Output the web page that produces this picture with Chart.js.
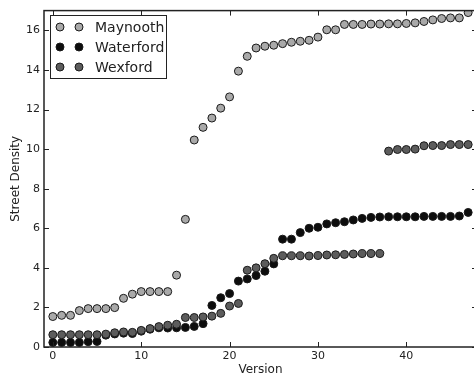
<!DOCTYPE html>
<html>
<head>
<meta charset="utf-8">
<script src="https://cdn.jsdelivr.net/npm/chart.js@4.4.0/dist/chart.umd.min.js"></script>
<style>
  html, body { margin: 0; padding: 0; background: #fff; overflow: hidden; }
  #wrap { width: 482px; height: 378px; }
</style>
</head>
<body>
<div id="wrap"><canvas id="chart" width="482" height="378"></canvas></div>
<script>
const versions = [0, 1, 2, 3, 4, 5, 6, 7, 8, 9, 10, 11, 12, 13, 14, 15, 16, 17, 18, 19, 20, 21, 22, 23,
  24, 25, 26, 27, 28, 29, 30, 31, 32, 33, 34, 35, 36, 37, 38, 39, 40, 41, 42, 43, 44, 45, 46, 47];

const maynooth = [1.54, 1.6, 1.6, 1.84, 1.94, 1.94, 1.94, 1.99, 2.46, 2.67, 2.8, 2.8, 2.8, 2.8, 3.63, 6.45,
  10.46, 11.1, 11.57, 12.07, 12.64, 13.94, 14.69, 15.11, 15.2, 15.25, 15.33, 15.4, 15.45, 15.5, 15.66, 16.03,
  16.03, 16.3, 16.3, 16.3, 16.32, 16.32, 16.33, 16.33, 16.35, 16.38, 16.45, 16.53, 16.6, 16.63, 16.63, 16.9];

const waterford = [0.23, 0.23, 0.23, 0.23, 0.27, 0.28, 0.6, 0.66, 0.7, 0.68, 0.8, 0.9, 0.97, 0.96, 0.97, 0.99,
  1.04, 1.18, 2.1, 2.49, 2.7, 3.33, 3.44, 3.61, 3.83, 4.2, 5.45, 5.45, 5.78, 6.0, 6.05, 6.22,
  6.28, 6.33, 6.42, 6.5, 6.55, 6.57, 6.58, 6.58, 6.58, 6.58, 6.6, 6.6, 6.6, 6.6, 6.62, 6.8];

const wexford = [0.62, 0.62, 0.62, 0.62, 0.62, 0.62, 0.65, 0.72, 0.76, 0.74, 0.84, 0.93, 1.03, 1.1, 1.15, 1.49,
  1.49, 1.52, 1.56, 1.7, 2.07, 2.2, 3.88, 4.0, 4.21, 4.48, 4.61, 4.61, 4.61, 4.6, 4.62, 4.65,
  4.66, 4.68, 4.7, 4.72, 4.72, 4.72, 9.9, 9.98, 9.98, 10.0, 10.17, 10.18, 10.18, 10.23, 10.23, 10.23];

const xTicks = [0, 10, 20, 30, 40];
const yTicks = [0, 2, 4, 6, 8, 10, 12, 14, 16];

const FONT = 'DejaVu Sans';
const INK = '#222';

function points(values) {
  return values.map((v, i) => ({ x: versions[i], y: v }));
}

function makeSet(label, values, fill, order) {
  return {
    label: label,
    data: points(values),
    backgroundColor: fill,
    borderColor: '#1a1a1a',
    borderWidth: 1,
    pointRadius: 4,
    pointHoverRadius: 4,
    order: order
  };
}

// frame, inward ticks and the two-marker legend, matplotlib style
const framePlugin = {
  id: 'frame',
  afterDraw(chart) {
    const ctx = chart.ctx;
    const a = chart.chartArea;
    const xs = chart.scales.x;
    const ys = chart.scales.y;
    ctx.save();
    ctx.strokeStyle = INK;
    ctx.lineWidth = 1;
    xTicks.forEach(t => {
      const px = Math.round(xs.getPixelForValue(t)) + 0.5;
      ctx.beginPath();
      ctx.moveTo(px, a.bottom); ctx.lineTo(px, a.bottom - 5);
      ctx.moveTo(px, a.top); ctx.lineTo(px, a.top + 5);
      ctx.stroke();
    });
    yTicks.forEach(t => {
      const py = Math.round(ys.getPixelForValue(t)) + 0.5;
      ctx.beginPath();
      ctx.moveTo(a.left, py); ctx.lineTo(a.left + 5, py);
      ctx.moveTo(a.right, py); ctx.lineTo(a.right - 5, py);
      ctx.stroke();
    });
    ctx.lineWidth = 1.5;
    ctx.strokeRect(a.left, a.top, a.right - a.left, a.bottom - a.top);

    // legend
    ctx.fillStyle = '#fff';
    ctx.fillRect(50.5, 15.5, 116, 63);
    ctx.lineWidth = 1;
    ctx.strokeStyle = INK;
    ctx.strokeRect(50.5, 15.5, 116, 63);
    ctx.font = '14px "' + FONT + '"';
    ctx.textBaseline = 'middle';
    chart.data.datasets.forEach((ds, r) => {
      const y = 27 + r * 20;
      [60, 79].forEach(mx => {
        ctx.beginPath();
        ctx.arc(mx, y, 4, 0, Math.PI * 2);
        ctx.fillStyle = ds.backgroundColor;
        ctx.fill();
        ctx.strokeStyle = ds.borderColor;
        ctx.stroke();
      });
      ctx.fillStyle = INK;
      ctx.fillText(ds.label, 95, y + 1);
    });
    ctx.restore();
  }
};

new Chart(document.getElementById('chart'), {
  type: 'scatter',
  data: {
    datasets: [
      makeSet('Maynooth', maynooth, '#a9a9a9', 2),
      makeSet('Waterford', waterford, '#0d0d0d', 1),
      makeSet('Wexford', wexford, '#5c5c5c', 0)
    ]
  },
  options: {
    responsive: false,
    animation: false,
    layout: { padding: { top: 8, right: 2, left: 0, bottom: 0 } },
    plugins: {
      legend: { display: false },
      tooltip: { enabled: false }
    },
    scales: {
      x: {
        type: 'linear',
        min: -1,
        max: 48,
        grid: { display: false, drawTicks: false, tickLength: 0 },
        border: { display: false },
        afterBuildTicks: s => { s.ticks = xTicks.map(v => ({ value: v })); },
        afterFit: s => { s.height = 31; },
        ticks: { color: INK, padding: 3, font: { family: FONT, size: 11 } },
        title: {
          display: true,
          text: 'Version',
          color: INK,
          padding: { top: 0, bottom: 1 },
          font: { family: FONT, size: 12 }
        }
      },
      y: {
        type: 'linear',
        min: 0,
        max: 17,
        grid: { display: false, drawTicks: false, tickLength: 0 },
        border: { display: false },
        afterBuildTicks: s => { s.ticks = yTicks.map(v => ({ value: v })); },
        afterFit: s => { s.width = 44; },
        ticks: { color: INK, padding: 4, font: { family: FONT, size: 11 } },
        title: {
          display: true,
          text: 'Street Density',
          color: INK,
          padding: { top: 9, bottom: 0 },
          font: { family: FONT, size: 12 }
        }
      }
    }
  },
  plugins: [framePlugin]
});
</script>
</body>
</html>
